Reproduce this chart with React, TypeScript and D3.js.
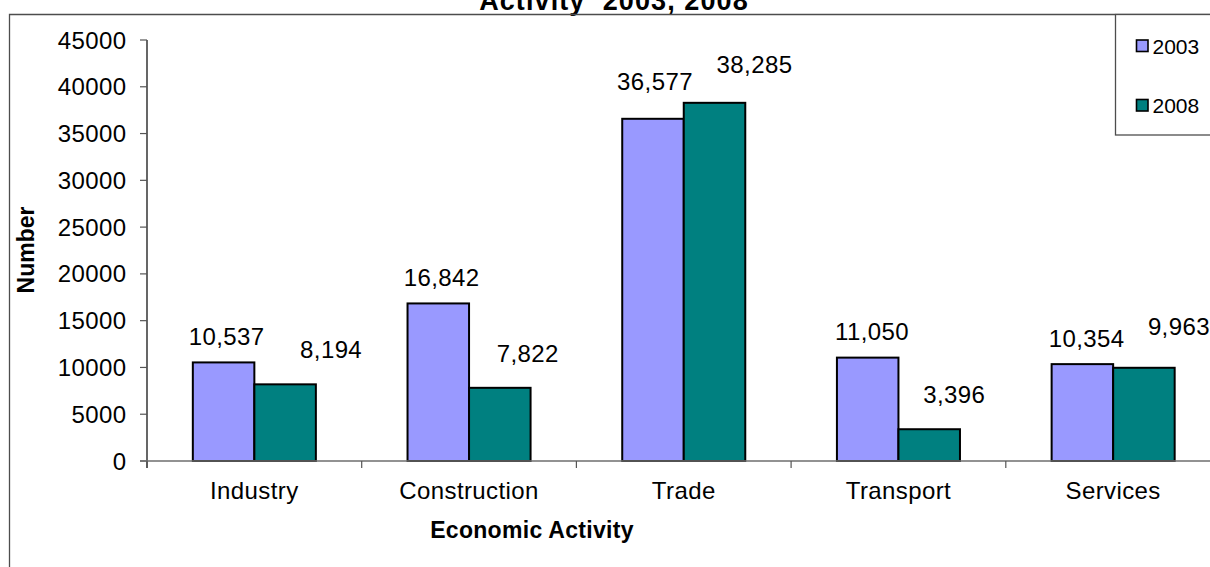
import React from 'react';
import * as d3 from 'd3';

// data
const categories = ['Industry', 'Construction', 'Trade', 'Transport', 'Services'];
const seriesNames = ['2003', '2008'];
const values2003 = [10537, 16842, 36577, 11050, 10354];
const values2008 = [8194, 7822, 38285, 3396, 9963];
const yTicks = [0, 5000, 10000, 15000, 20000, 25000, 30000, 35000, 40000, 45000];

// hand-moved data labels in the original: [dx from bar centre, gap above bar top]
const labelNudge2003 = [[3, 17], [3.4, 17.7], [2, 29], [4.3, 17.7], [4.3, 17.3]];
const labelNudge2008 = [[46, 26], [28, 25.5], [40, 30], [25, 26], [35, 33]];

const colors = ['#9999FF', '#008080'];
const font = '"Liberation Sans", Arial, sans-serif';

export default function App() {
  const width = 1210, height = 567;
  const margin = { top: 40, left: 147, bottom: 461 };
  const step = 214.7;
  const fs = 24, ls = 0.4;

  // x: one band per category, the last one runs off the right edge like the picture
  const x = d3.scaleBand<string>()
    .domain(categories)
    .range([margin.left, margin.left + step * categories.length])
    .padding(0);
  // inner band for the two bars of a group
  const xs = d3.scaleBand<string>()
    .domain(seriesNames)
    .range([0, x.bandwidth()])
    .paddingInner(0)
    .paddingOuter(0.745);
  const y = d3.scaleLinear().domain([0, 45000]).range([margin.bottom, margin.top]);

  const series = [values2003, values2008];
  const nudges = [labelNudge2003, labelNudge2008];
  const fmt = d3.format(',');

  return (
    <svg width={width} height={height} style={{ position: 'absolute', left: 0, top: 0, fontFamily: font }}>
      <rect x={0} y={0} width={width} height={height} fill="#fff" />
      {/* title, its first line is cut off above the picture */}
      <text x={614} y={9.5} textAnchor="middle" fontSize={27} fontWeight="bold" letterSpacing={1.1} style={{ whiteSpace: 'pre' }}>
        {'Activity  2003, 2008'}
      </text>
      {/* chart area border */}
      <path d={`M9.5,${height + 2}V14.5H${width + 2}`} fill="none" stroke="#4d4d4d" strokeWidth={1.3} />

      {/* y axis */}
      <line x1={margin.left} x2={margin.left} y1={y(45000)} y2={y(0) + 7} stroke="#000" strokeWidth={1.2} />
      {yTicks.map(t => (
        <g key={t}>
          <line x1={margin.left - 7} x2={margin.left} y1={y(t)} y2={y(t)} stroke="#555" strokeWidth={1.2} />
          <text x={126.5} y={y(t) + 8.5} textAnchor="end" fontSize={fs} letterSpacing={ls}>{t}</text>
        </g>
      ))}

      {/* bars */}
      {series.map((vals, s) => (
        <g key={s} fill={colors[s]} stroke="#000" strokeWidth={2}>
          {categories.map((c, i) => (
            <rect key={c}
              x={(x(c) as number) + (xs(seriesNames[s]) as number)}
              y={y(vals[i])}
              width={xs.bandwidth()}
              height={y(0) - y(vals[i])} />
          ))}
        </g>
      ))}

      {/* x axis */}
      <line x1={margin.left - 7} x2={width + 2} y1={y(0)} y2={y(0)} stroke="#6e6e6e" strokeWidth={1.5} />
      {categories.map(c => (
        <g key={c}>
          <line x1={x(c)} x2={x(c)} y1={y(0)} y2={y(0) + 7} stroke="#555" strokeWidth={1.2} />
          <text x={(x(c) as number) + x.bandwidth() / 2} y={499} textAnchor="middle" fontSize={fs} letterSpacing={ls}>{c}</text>
        </g>
      ))}

      {/* data labels */}
      {series.map((vals, s) => categories.map((c, i) => (
        <text key={`${s}-${c}`}
          x={(x(c) as number) + (xs(seriesNames[s]) as number) + xs.bandwidth() / 2 + nudges[s][i][0]}
          y={y(vals[i]) - nudges[s][i][1]}
          textAnchor="middle" fontSize={fs} letterSpacing={ls}>{fmt(vals[i])}</text>
      )))}

      {/* axis titles */}
      <text transform="translate(34,250) rotate(-90)" textAnchor="middle" fontSize={23} fontWeight="bold">Number</text>
      <text x={532} y={538} textAnchor="middle" fontSize={23} fontWeight="bold" letterSpacing={0.3}>Economic Activity</text>

      {/* legend */}
      <rect x={1115.5} y={14.5} width={width} height={120.5} fill="#fff" stroke="#4d4d4d" strokeWidth={1.3} />
      {seriesNames.map((n, s) => (
        <g key={n} transform={`translate(1136,${39.5 + s * 59.5})`}>
          <rect x={0.5} y={0.5} width={11.5} height={11.5} fill={colors[s]} stroke="#000" strokeWidth={1.6} />
          <text x={16.5} y={14} fontSize={21}>{n}</text>
        </g>
      ))}
    </svg>
  );
}
